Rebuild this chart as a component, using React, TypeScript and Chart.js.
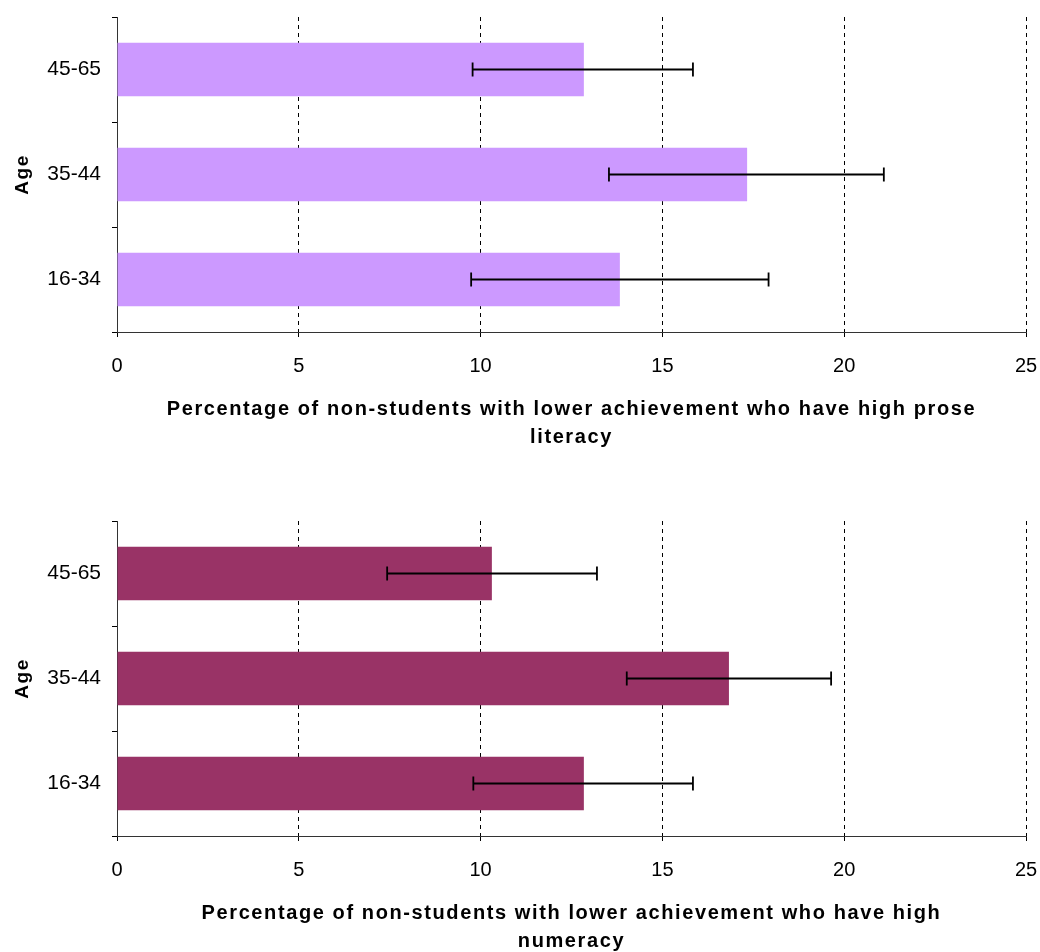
import React, { useEffect, useRef } from 'react';
import { Chart, registerables } from 'chart.js';

Chart.register(...registerables);

// ---- Data ----
const categories = ['45-65', '35-44', '16-34'];

const literacyValues = [12.84, 17.33, 13.83];
const literacyLow = [9.78, 13.53, 9.74];
const literacyHigh = [15.84, 21.09, 17.92];

const numeracyValues = [10.31, 16.83, 12.84];
const numeracyLow = [7.43, 14.02, 9.8];
const numeracyHigh = [13.2, 19.64, 15.84];

const xTicks = [0, 5, 10, 15, 20, 25];

const literacyTitle = ['Percentage of non-students with lower achievement who have high prose', 'literacy'];
const numeracyTitle = ['Percentage of non-students with lower achievement who have high', 'numeracy'];
const yTitle = 'Age';

const FONT = "'Liberation Sans', Arial, sans-serif";

const spacingPlugin = {
  id: 'titleSpacing',
  beforeDraw(chart: any) {
    chart.ctx.letterSpacing = '1.6px';
  },
  afterDatasetsDraw(chart: any) {
    chart.ctx.letterSpacing = '0px';
  },
};

const errorBarPlugin = {
  id: 'errorBars',
  afterDatasetsDraw(chart: any) {
    const ctx = chart.ctx;
    const xs = chart.scales.x;
    const meta = chart.getDatasetMeta(0);
    const ds = chart.data.datasets[0];
    ctx.save();
    ctx.letterSpacing = '0px';
    ctx.strokeStyle = '#000';
    ctx.lineWidth = 1.8;
    meta.data.forEach((bar: any, i: number) => {
      const y = bar.y;
      const x1 = xs.getPixelForValue(ds.errLow[i]);
      const x2 = xs.getPixelForValue(ds.errHigh[i]);
      ctx.beginPath();
      ctx.moveTo(x1, y);
      ctx.lineTo(x2, y);
      ctx.moveTo(x1, y - 7);
      ctx.lineTo(x1, y + 7);
      ctx.moveTo(x2, y - 7);
      ctx.lineTo(x2, y + 7);
      ctx.stroke();
    });
    ctx.restore();
  },
};

type PanelProps = {
  values: number[];
  low: number[];
  high: number[];
  color: string;
  title: string[];
};

function BarPanel({ values, low, high, color, title }: PanelProps) {
  const ref = useRef<HTMLCanvasElement>(null);
  useEffect(() => {
    const chart = new Chart(ref.current as HTMLCanvasElement, {
      type: 'bar',
      data: {
        labels: categories,
        datasets: [
          {
            data: values,
            backgroundColor: color,
            borderWidth: 0,
            barPercentage: 0.51,
            categoryPercentage: 1,
            errLow: low,
            errHigh: high,
          } as any,
        ],
      },
      options: {
        indexAxis: 'y',
        responsive: false,
        animation: false,
        layout: { padding: { top: 17, right: 14, left: 0, bottom: 0 } },
        plugins: { legend: { display: false }, tooltip: { enabled: false } },
        scales: {
          x: {
            type: 'linear',
            min: 0,
            max: 25,
            afterFit: (s: any) => {
              s.height = 144;
              s.paddingLeft = 0;
              s.paddingRight = 0;
            },
            afterBuildTicks: (s: any) => {
              s.ticks = xTicks.map((v) => ({ value: v }));
            },
            grid: {
              color: '#000',
              lineWidth: 1,
              drawTicks: true,
              tickLength: 5,
              tickColor: '#000',
              tickBorderDash: [],
            },
            border: { display: true, color: '#333', width: 1, dash: [4, 4] },
            ticks: {
              font: { family: FONT, size: 20 },
              color: '#000',
              padding: 17,
              maxRotation: 0,
              z: 1,
            },
            title: {
              display: true,
              text: title,
              color: '#000',
              font: { family: FONT, size: 20, weight: 'bold', lineHeight: 1.4 },
              padding: { top: 0, bottom: 25 },
            },
          },
          y: {
            type: 'category',
            afterFit: (s: any) => {
              s.width = 117;
              s.paddingTop = 0;
              s.paddingBottom = 0;
            },
            grid: {
              drawOnChartArea: false,
              drawTicks: true,
              tickLength: 5,
              tickColor: '#000',
              offset: true,
            },
            border: { display: true, color: '#333', width: 1 },
            ticks: {
              font: { family: FONT, size: 21 },
              color: '#000',
              padding: 11,
              z: 1,
            },
            title: {
              display: true,
              text: yTitle,
              color: '#000',
              font: { family: FONT, size: 19, weight: 'bold' },
              padding: { top: 11, bottom: 0 },
            },
          },
        },
      } as any,
      plugins: [spacingPlugin, errorBarPlugin],
    });
    return () => chart.destroy();
  }, []);
  return <canvas ref={ref} width={1040} height={476} style={{ display: 'block' }} />;
}

export default function App() {
  return (
    <div
      style={{
        position: 'absolute',
        left: 0,
        top: 0,
        width: 1040,
        height: 952,
        overflow: 'hidden',
        background: '#fff',
      }}
    >
      <div style={{ position: 'absolute', left: 0, top: 0 }}>
        <BarPanel values={literacyValues} low={literacyLow} high={literacyHigh} color="#CC99FF" title={literacyTitle} />
      </div>
      <div style={{ position: 'absolute', left: 0, top: 504 }}>
        <BarPanel values={numeracyValues} low={numeracyLow} high={numeracyHigh} color="#993366" title={numeracyTitle} />
      </div>
    </div>
  );
}
